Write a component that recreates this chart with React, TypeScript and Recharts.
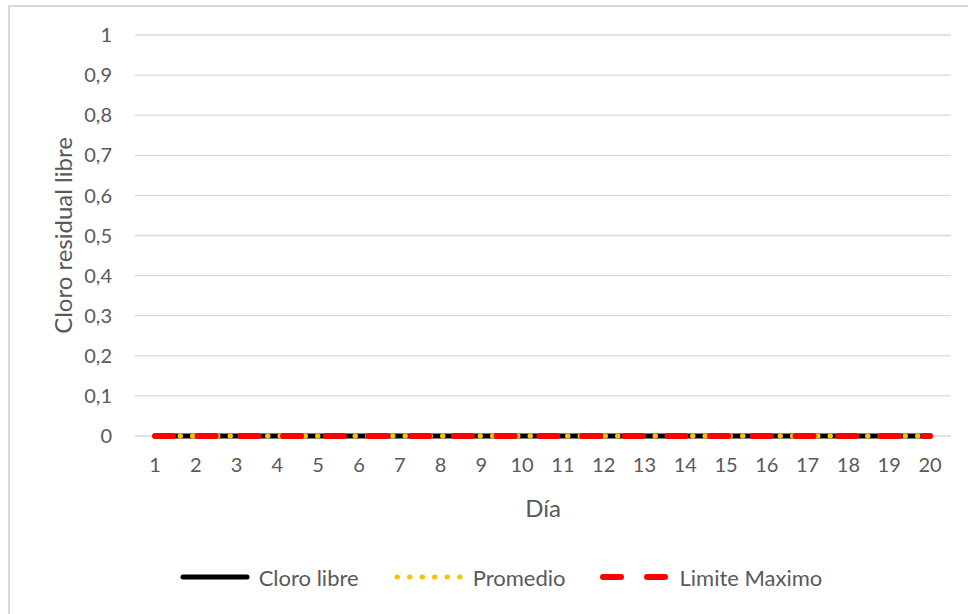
import React from 'react';
import { LineChart, Line, XAxis, YAxis, CartesianGrid, Legend, Label } from 'recharts';

// Días de muestreo y mediciones de cloro residual libre (mg/L)
const dias = ['1', '2', '3', '4', '5', '6', '7', '8', '9', '10', '11', '12', '13', '14', '15', '16', '17', '18', '19', '20'];
const cloroLibre = [0, 0, 0, 0, 0, 0, 0, 0, 0, 0, 0, 0, 0, 0, 0, 0, 0, 0, 0, 0];
const promedio = [0, 0, 0, 0, 0, 0, 0, 0, 0, 0, 0, 0, 0, 0, 0, 0, 0, 0, 0, 0];
const limiteMaximo = [0, 0, 0, 0, 0, 0, 0, 0, 0, 0, 0, 0, 0, 0, 0, 0, 0, 0, 0, 0];
const yTicks = [0, 0.1, 0.2, 0.3, 0.4, 0.5, 0.6, 0.7, 0.8, 0.9, 1];

const data = dias.map((dia, i) => ({
  dia,
  cloroLibre: cloroLibre[i],
  promedio: promedio[i],
  limiteMaximo: limiteMaximo[i],
}));

const FONT = 'Lato, "Open Sans", sans-serif';
const TEXT = '#595959';
const GRID = '#d9d9d9';

// draw order matters: solid black at the bottom, red dashes on top
const series = [
  { key: 'cloroLibre', name: 'Cloro libre', color: '#000000', width: 5, dash: undefined as string | undefined },
  { key: 'promedio', name: 'Promedio', color: '#ffc000', width: 5, dash: '0.5 12' },
  { key: 'limiteMaximo', name: 'Limite Maximo', color: '#ff0000', width: 6, dash: '18 24.7' },
];

const formatTick = (v: number) => String(v).replace('.', ',');

const renderLegend = () => (
  <div
    style={{
      height: 40,
      display: 'flex',
      alignItems: 'center',
      justifyContent: 'center',
      paddingLeft: 33,
      fontFamily: FONT,
      fontSize: 22,
      color: TEXT,
    }}
  >
    {series.map((s, i) => (
      <div key={s.key} style={{ display: 'flex', alignItems: 'center', marginLeft: i === 0 ? 0 : 34 }}>
        <svg width={72} height={12} style={{ marginRight: 8 }}>
          <line
            x1={4}
            y1={6}
            x2={68}
            y2={6}
            stroke={s.color}
            strokeWidth={s.width}
            strokeLinecap="round"
            strokeDasharray={s.key === 'limiteMaximo' ? '18 26' : s.dash}
          />
        </svg>
        <span>{s.name}</span>
      </div>
    ))}
  </div>
);

const YTitle = (props: any) => {
  const vb = props.viewBox || { x: 10, y: 35, width: 125, height: 401 };
  const x = vb.x + 52;
  const y = vb.y + vb.height / 2;
  return (
    <text
      x={x}
      y={y}
      transform={`rotate(-90, ${x}, ${y})`}
      textAnchor="middle"
      dominantBaseline="central"
      fill={TEXT}
      fontFamily={FONT}
      fontSize={24}
    >
      Cloro residual libre
    </text>
  );
};

const XTitle = (props: any) => {
  const vb = props.viewBox || { x: 135, y: 436, width: 816, height: 121 };
  return (
    <text
      x={vb.x + vb.width / 2}
      y={vb.y + 71}
      textAnchor="middle"
      dominantBaseline="central"
      fill={TEXT}
      fontFamily={FONT}
      fontSize={24}
    >
      Día
    </text>
  );
};

export default function App() {
  return (
    <div style={{ position: 'absolute', left: 0, top: 0, width: 968, height: 614, background: '#fff', overflow: 'hidden' }}>
      <div
        style={{
          position: 'absolute',
          left: 8,
          top: 5,
          width: 1000,
          height: 700,
          borderLeft: `2px solid ${GRID}`,
          borderTop: `2px solid ${GRID}`,
        }}
      />
      <div style={{ position: 'absolute', left: 0, top: 0 }}>
        <LineChart width={968} height={614} data={data} margin={{ top: 35, right: 17, bottom: 17, left: 10 }}>
          <CartesianGrid vertical={false} stroke={GRID} strokeWidth={1.3} />
          <XAxis
            dataKey="dia"
            axisLine={false}
            tickLine={false}
            tickSize={0}
            tickMargin={22}
            height={121}
            interval={0}
            padding={{ left: 20, right: 21 }}
            tick={{ fill: TEXT, fontSize: 20, fontFamily: FONT }}
          >
            <Label content={<XTitle />} />
          </XAxis>
          <YAxis
            domain={[0, 1]}
            ticks={yTicks}
            tickFormatter={formatTick}
            axisLine={false}
            tickLine={false}
            tickSize={0}
            tickMargin={23}
            width={125}
            tick={{ fill: TEXT, fontSize: 20, fontFamily: FONT }}
          >
            <Label content={<YTitle />} />
          </YAxis>
          <Legend verticalAlign="bottom" content={renderLegend} wrapperStyle={{ left: 0, width: 968 }} />
          {series.map((s) => (
            <Line
              key={s.key}
              type="linear"
              dataKey={s.key}
              name={s.name}
              stroke={s.color}
              strokeWidth={s.width}
              strokeDasharray={s.dash}
              strokeLinecap="round"
              dot={false}
              activeDot={false}
              isAnimationActive={false}
            />
          ))}
        </LineChart>
      </div>
    </div>
  );
}
